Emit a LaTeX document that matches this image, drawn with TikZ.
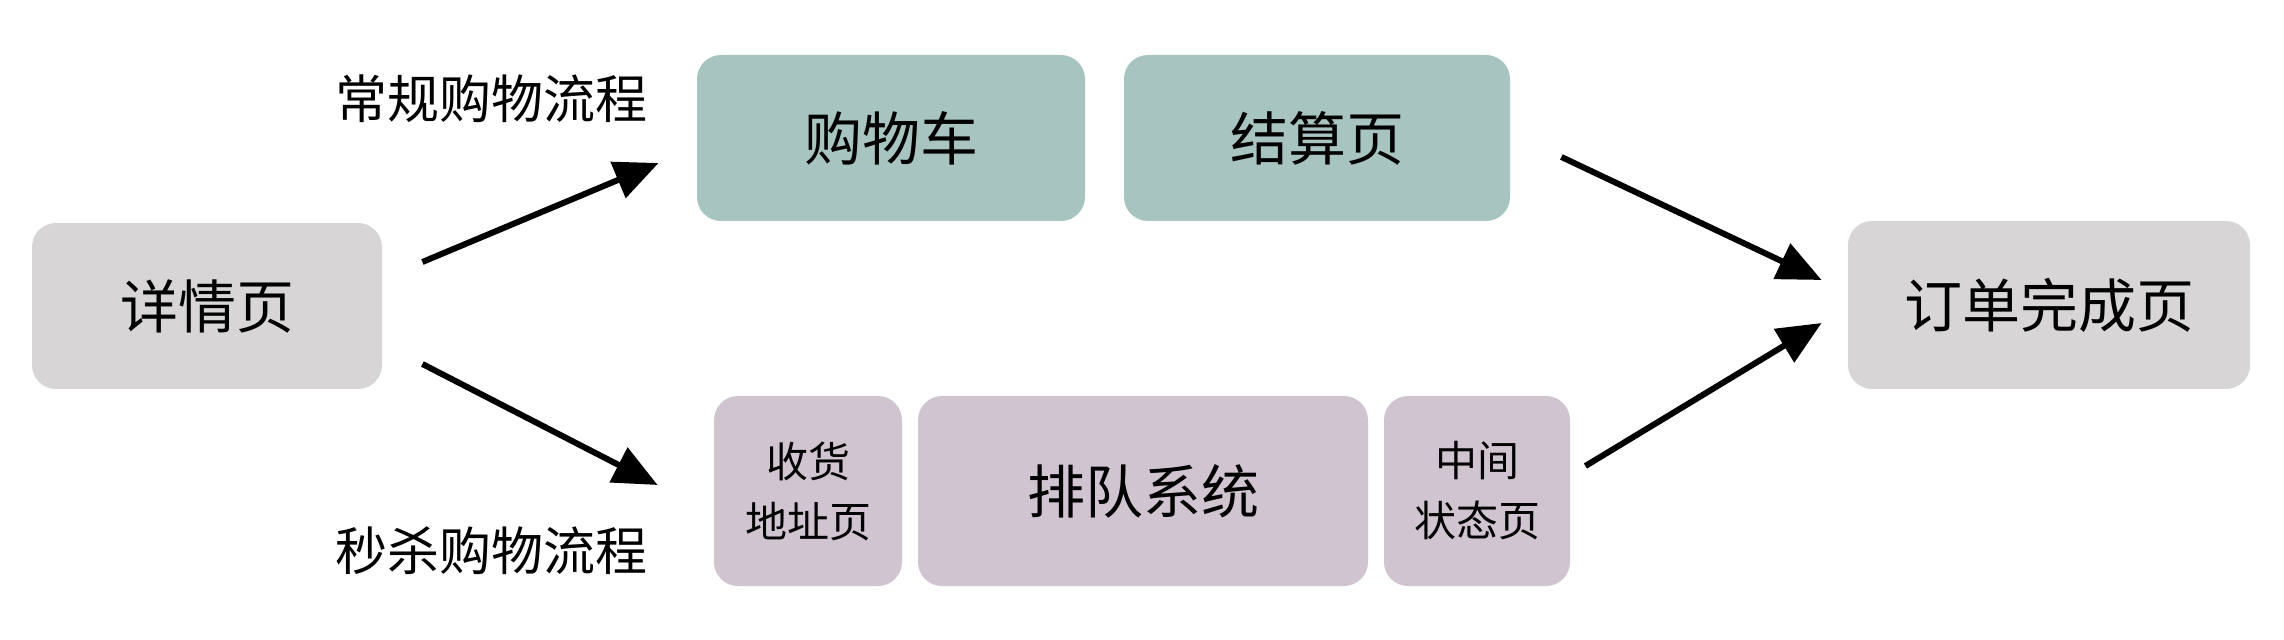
\documentclass[tikz,border=0pt]{standalone}
\usepackage{fontspec}
\setmainfont{Noto Sans CJK SC}
\usepackage{xcolor}
\definecolor{pgrey}{HTML}{D7D5D6}
\definecolor{pteal}{HTML}{A8C4C0}
\definecolor{pmauve}{HTML}{CFC4CF}
\usetikzlibrary{arrows.meta,positioning,calc}
\tikzset{
  >={Triangle[length=22pt,width=19pt]},
  page/.style={rounded corners=12pt,inner sep=0pt,align=center,font=\fontsize{29}{34}\selectfont,fill=pgrey},
  gpage/.style={page,fill=pteal},
  mpage/.style={page,fill=pmauve},
  spage/.style={mpage,font=\fontsize{21}{30}\selectfont},
  lab/.style={font=\fontsize{26}{30}\selectfont},
  arr/.style={->,line width=3pt,draw=black},
}
\begin{document}
\begin{tikzpicture}[x=0.5pt,y=-0.5pt]
\useasboundingbox (0,0) rectangle (2284,640);
\node[page,minimum width=175pt,minimum height=83pt] (detail) at (207,306) {详情页};
\node[gpage,minimum width=194pt,minimum height=83pt] (cart) at (891,138) {购物车};
\node[gpage,minimum width=193pt,minimum height=83pt] (checkout) at (1317,138) {结算页};
\node[page,minimum width=201pt,minimum height=84pt] (done) at (2049,305) {订单完成页};
\node[spage,minimum width=94pt,minimum height=95pt] (addr) at (808,491) {收货\\地址页};
\node[mpage,minimum width=225pt,minimum height=95pt] (queue) at (1143,491) {排队系统};
\node[spage,minimum width=93pt,minimum height=95pt] (midstate) at (1477,491) {中间\\状态页};
\node[lab] (normal) at (491,99) {常规购物流程};
\node[lab] (seckill) at (491,551) {秒杀购物流程};
% arrows
\draw[arr] ([shift={(40,-44)}]detail.east) -- ([shift={(-38,25)}]cart.west);
\draw[arr] ([shift={(40,58)}]detail.east) -- ([shift={(-56,-6)}]addr.west);
\draw[arr] ([shift={(51,19)}]checkout.east) -- ([shift={(-26,-25)}]done.west);
\draw[arr] ([shift={(15,-25)}]midstate.east) -- ([shift={(-26,18)}]done.west);
\end{tikzpicture}
\end{document}
